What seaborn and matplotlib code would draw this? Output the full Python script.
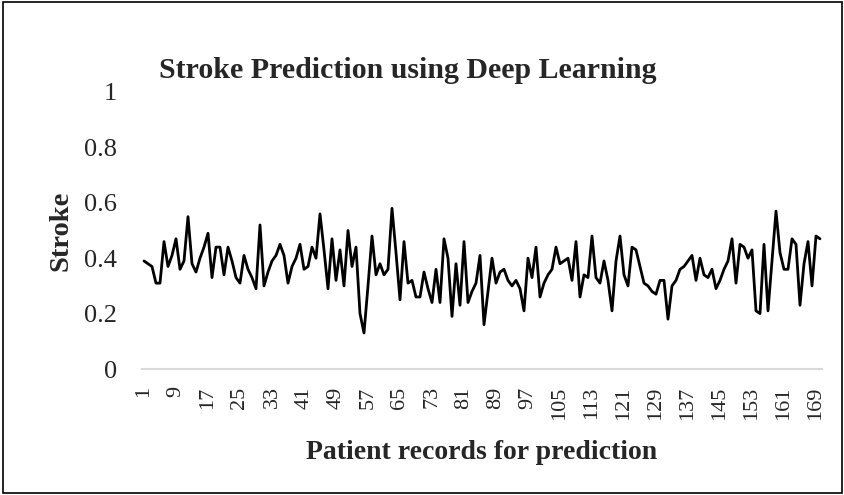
import numpy as np
import pandas as pd
import matplotlib.pyplot as plt
import seaborn as sns
from matplotlib.patches import Rectangle

# values, one per patient record
stroke = [
    0.39, 0.38, 0.37, 0.31, 0.31, 0.46, 0.37, 0.41, 0.47, 0.36,
    0.39, 0.55, 0.38, 0.35, 0.40, 0.44, 0.49, 0.33, 0.44, 0.44,
    0.34, 0.44, 0.39, 0.33, 0.31, 0.41, 0.36, 0.33, 0.29, 0.52,
    0.30, 0.35, 0.39, 0.41, 0.45, 0.41, 0.31, 0.37, 0.40, 0.45,
    0.36, 0.37, 0.44, 0.40, 0.56, 0.43, 0.29, 0.47, 0.32, 0.43,
    0.30, 0.50, 0.37, 0.44, 0.20, 0.13, 0.30, 0.48, 0.34, 0.38,
    0.34, 0.36, 0.58, 0.42, 0.25, 0.46, 0.31, 0.32, 0.26, 0.26,
    0.35, 0.29, 0.24, 0.36, 0.24, 0.47, 0.40, 0.19, 0.38, 0.23,
    0.46, 0.24, 0.28, 0.31, 0.41, 0.16, 0.28, 0.40, 0.31, 0.35,
    0.36, 0.32, 0.30, 0.32, 0.29, 0.21, 0.40, 0.33, 0.44, 0.26,
    0.31, 0.34, 0.36, 0.44, 0.38, 0.39, 0.40, 0.32, 0.46, 0.26,
    0.34, 0.33, 0.48, 0.33, 0.31, 0.39, 0.32, 0.21, 0.39, 0.48,
    0.34, 0.30, 0.44, 0.43, 0.37, 0.31, 0.30, 0.28, 0.27, 0.32,
    0.32, 0.18, 0.30, 0.32, 0.36, 0.37, 0.39, 0.41, 0.32, 0.40,
    0.34, 0.33, 0.36, 0.29, 0.32, 0.36, 0.39, 0.47, 0.31, 0.45,
    0.44, 0.40, 0.43, 0.21, 0.20, 0.45, 0.21, 0.39, 0.57, 0.42,
    0.36, 0.36, 0.47, 0.45, 0.23, 0.38, 0.46, 0.30, 0.48, 0.47,
]
records = list(range(1, len(stroke) + 1))
xticks = list(range(1, len(stroke) + 1, 8))
yticks = [0, 0.2, 0.4, 0.6, 0.8, 1]
ytick_labels = ['0', '0.2', '0.4', '0.6', '0.8', '1']

df = pd.DataFrame({'record': records, 'stroke': stroke})

sns.set_style('white')
plt.rcParams['font.family'] = ['Liberation Serif', 'DejaVu Serif']

fig = plt.figure(figsize=(8.45, 4.95), dpi=100)
ax = fig.add_axes([142 / 845, 1 - 369 / 495, 680 / 845, 277 / 495])

sns.lineplot(data=df, x='record', y='stroke', color='black', linewidth=2.0, ax=ax)

ax.set_xlim(0.5, len(stroke) + 0.5)
ax.set_ylim(0, 1)
ax.set_xticks(xticks)
ax.set_xticklabels([str(t) for t in xticks], rotation=90, fontsize=16)
ax.set_yticks(yticks)
ax.set_yticklabels(ytick_labels, fontsize=19)
ax.tick_params(axis='x', length=0, pad=12.5)
ax.tick_params(axis='y', length=0, pad=18)

for side in ['top', 'right', 'left']:
    ax.spines[side].set_visible(False)
ax.spines['bottom'].set_color('#d9d9d9')
ax.spines['bottom'].set_linewidth(1.5)

ax.set_xlabel('Patient records for prediction', fontsize=20, fontweight='bold')
ax.set_ylabel('Stroke', fontsize=20.5, fontweight='bold')
ax.xaxis.set_label_coords(0.5, -0.30)
ax.yaxis.set_label_coords(-0.119, 0.5)
ax.xaxis.label.set_va('center')
ax.yaxis.label.set_va('center')

fig.text(408 / 845, 1 - 71 / 495, 'Stroke Prediction using Deep Learning',
         ha='center', va='center', fontsize=21.5, fontweight='bold')

fig.patches.append(Rectangle((0.003, 0.004), 0.994, 0.992, transform=fig.transFigure,
                             fill=False, edgecolor='black', linewidth=1.2))

fig.savefig('out.png', dpi=100)
